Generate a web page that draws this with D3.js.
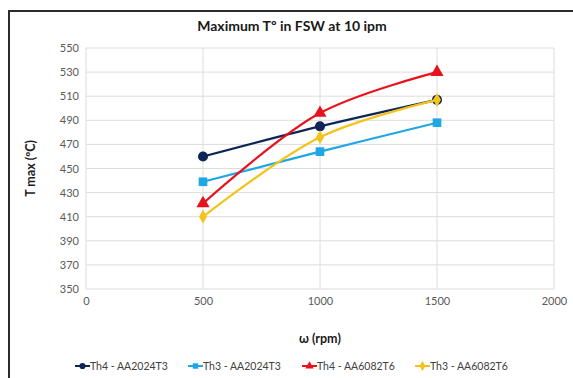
<!DOCTYPE html>
<html>
<head>
<meta charset="utf-8">
<script src="https://cdn.jsdelivr.net/npm/d3@7"></script>
<style>
  html, body { margin: 0; padding: 0; background: #fff; }
  svg { display: block; font-family: Lato, "Open Sans", sans-serif; }
</style>
</head>
<body>
<svg id="chart" width="573" height="378"></svg>
<script>
const rpm = [500, 1000, 1500];
const th4_2024 = [460, 485, 507];
const th3_2024 = [439, 464, 488];
const th4_6082 = [421, 496, 530];
const th3_6082 = [410, 476, 507];
const xTicks = [0, 500, 1000, 1500, 2000];
const yTicks = [350, 370, 390, 410, 430, 450, 470, 490, 510, 530, 550];

const series = [
  { name: 'Th4 - AA2024T3', values: th4_2024, color: '#0e2656', marker: 'circle' },
  { name: 'Th3 - AA2024T3', values: th3_2024, color: '#1ea7e4', marker: 'square' },
  { name: 'Th4 - AA6082T6', values: th4_6082, color: '#e8121c', marker: 'triangle' },
  { name: 'Th3 - AA6082T6', values: th3_6082, color: '#f4c21b', marker: 'diamond' }
];

const m = { left: 86, right: 554, top: 48, bottom: 289 };

const svg = d3.select('#chart');

// chart frame, runs off the right/bottom edge like the screenshot
svg.append('rect')
  .attr('x', 9).attr('y', 11).attr('width', 620).attr('height', 420)
  .attr('fill', '#fff').attr('stroke', '#2b2b2b').attr('stroke-width', 2);

const x = d3.scaleLinear().domain([0, 2000]).range([m.left, m.right]);
const y = d3.scaleLinear().domain([350, 550]).range([m.bottom, m.top]);

// grid
const grid = svg.append('g');
grid.selectAll('.hg').data(yTicks).join('line')
  .attr('x1', m.left).attr('x2', m.right)
  .attr('y1', d => y(d)).attr('y2', d => y(d))
  .attr('stroke', '#dcdcdc').attr('stroke-width', 1);
grid.selectAll('.vg').data(xTicks).join('line')
  .attr('y1', m.top).attr('y2', m.bottom)
  .attr('x1', d => x(d)).attr('x2', d => x(d))
  .attr('stroke', '#dcdcdc').attr('stroke-width', 1);

// axes: labels only
const yAxis = svg.append('g')
  .attr('transform', `translate(${m.left - 7},0)`)
  .call(d3.axisLeft(y).tickValues(yTicks).tickSize(0).tickPadding(0));
const xAxis = svg.append('g')
  .attr('transform', `translate(0,${m.bottom + 8})`)
  .call(d3.axisBottom(x).tickValues(xTicks).tickSize(0).tickPadding(0).tickFormat(d3.format('d')));
[yAxis, xAxis].forEach(a => {
  a.select('.domain').remove();
  a.selectAll('text').attr('fill', '#595959').style('font-size', '11px')
   .style('font-family', 'Lato, "Open Sans", sans-serif');
});
xAxis.selectAll('text').attr('dy', '0.71em');

// titles
svg.append('text')
  .attr('x', 292).attr('y', 31).attr('text-anchor', 'middle')
  .attr('fill', '#1a1a1a').style('font-size', '14px').style('font-weight', 'bold')
  .text('Maximum Tº in FSW at 10 ipm');

svg.append('text')
  .attr('transform', `translate(35,${(m.top + m.bottom) / 2}) rotate(-90)`)
  .attr('text-anchor', 'middle')
  .attr('fill', '#1a1a1a').style('font-size', '12.5px').style('font-weight', 'bold')
  .text('T max (ºC)');

svg.append('text')
  .attr('x', (m.left + m.right) / 2).attr('y', 343).attr('text-anchor', 'middle')
  .attr('fill', '#1a1a1a').style('font-size', '12.5px').style('font-weight', 'bold')
  .text('ω (rpm)');

// markers
const sym = {
  circle:   d3.symbol().type(d3.symbolCircle).size(80),
  square:   d3.symbol().type(d3.symbolSquare).size(75),
  triangle: d3.symbol().type(d3.symbolTriangle).size(75),
  diamond:  d3.symbol().type(d3.symbolDiamond).size(55)
};

const line = d3.line()
  .x((d, i) => x(rpm[i]))
  .y(d => y(d))
  .curve(d3.curveCatmullRom.alpha(0.5));

series.forEach(s => {
  const g = svg.append('g');
  g.append('path').datum(s.values)
    .attr('d', line)
    .attr('fill', 'none').attr('stroke', s.color).attr('stroke-width', 2.2);
  g.selectAll('path.mk').data(s.values).join('path')
    .attr('class', 'mk')
    .attr('transform', (d, i) => `translate(${x(rpm[i])},${y(d)})`)
    .attr('d', sym[s.marker])
    .attr('fill', s.color);
});

// legend
const legendX = [75, 188, 302, 415];
const lg = svg.append('g').attr('transform', 'translate(0,366)');
series.forEach((s, i) => {
  const it = lg.append('g').attr('transform', `translate(${legendX[i]},0)`);
  it.append('line').attr('x1', 0).attr('x2', 15).attr('y1', 0).attr('y2', 0)
    .attr('stroke', s.color).attr('stroke-width', 2);
  it.append('path').attr('transform', 'translate(7.5,0)')
    .attr('d', d3.symbol().type(sym[s.marker].type()).size(30))
    .attr('fill', s.color);
  it.append('text').attr('x', 15).attr('y', 0).attr('dy', '0.35em')
    .attr('fill', '#404040').style('font-size', '10.5px')
    .text(s.name);
});
</script>
</body>
</html>
